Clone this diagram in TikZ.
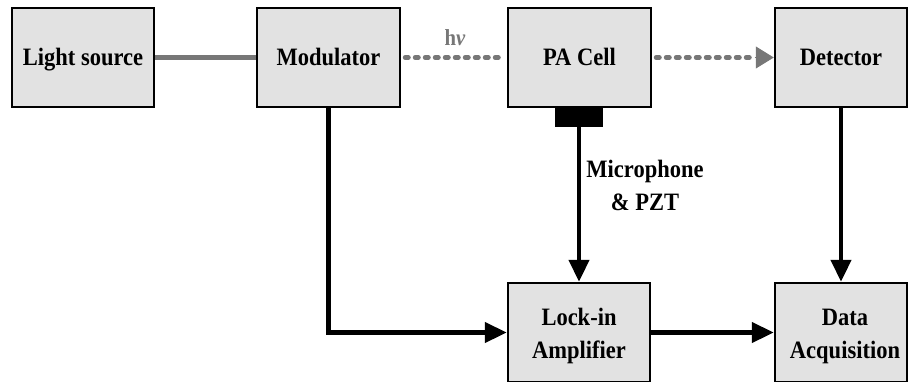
\documentclass[tikz,border=0pt]{standalone}
\usepackage{fontspec}
\setmainfont{Liberation Serif}[FakeStretch=0.9]
\usetikzlibrary{arrows.meta}
\definecolor{boxfill}{HTML}{E2E2E2}
\definecolor{beamgray}{HTML}{777777}
\tikzset{
  blockfont/.style={font=\fontsize{25}{33}\selectfont\bfseries},
  blockbox/.style={draw=black, line width=2.5pt, fill=boxfill, rectangle,
    minimum height=99pt, inner sep=0pt, align=center, blockfont,
    text height=16.9pt, text depth=0pt},
  blocktext/.style={blockfont, align=center, inner sep=0pt, anchor=base},
  sigline/.style={draw=black, line width=4.5pt},
  sigarrow/.style={sigline, -{Triangle[length=22pt,width=20pt]}},
  beamline/.style={draw=beamgray, line width=5pt},
  beamdots/.style={draw=beamgray, line width=5pt, line cap=round, dash pattern=on 3pt off 7pt},
}
\begin{document}
\begin{tikzpicture}[x=1pt, y=-1pt]
\useasboundingbox (0,0) rectangle (909,381);
\clip (0,0) rectangle (909,381);
\node[blockbox, minimum width=142pt] (light) at (83,57.5) {Light source};
\node[blockbox, minimum width=143pt] (mod) at (328.5,57.5) {Modulator};
\node[blockbox, minimum width=143pt] (pa) at (579.5,57.5) {PA Cell};
\node[blockbox, minimum width=132pt] (det) at (841,57.5) {Detector};
\node[blockbox, minimum width=142pt] (lock) at (579,332.5) {};
\node[blockbox, minimum width=132pt] (daq) at (841,332.5) {};
\node[blocktext] (locktxt) at (579,358) {Lock-in\\Amplifier};
\node[blocktext] (daqtxt) at (845,358) {Data\\Acquisition};
\node[draw=black, fill=black, line width=1pt, rectangle, minimum width=47pt, minimum height=19pt, inner sep=0pt] (mic) at (579,116.5) {};
\draw[beamline] (light.east) -- (mod.west);
\draw[beamdots] ([xshift=4pt]mod.east) -- ([xshift=-3pt]pa.west);
\node[text=beamgray, font=\fontsize{23}{25}\selectfont\bfseries, anchor=base, inner sep=0pt] (hv) at (455,45) {h\textit{ν}};
\draw[beamdots] ([xshift=4pt]pa.east) -- ([xshift=-20pt]det.west);
\draw[draw=beamgray, fill=beamgray, line width=1pt, -{Triangle[length=18pt,width=22pt]}] ([xshift=-19pt]det.west) -- (det.west);
\draw[sigarrow] (mod.south) |- (lock.west);
\draw[sigarrow] (mic.south) -- (lock.north);
\draw[sigarrow] (det.south) -- (daq.north);
\draw[sigarrow] (lock.east) -- (daq.west);
\node[blockfont, align=center, anchor=base, inner sep=0pt] (miclabel) at (645,210) {Microphone\\\& PZT};
\end{tikzpicture}
\end{document}
